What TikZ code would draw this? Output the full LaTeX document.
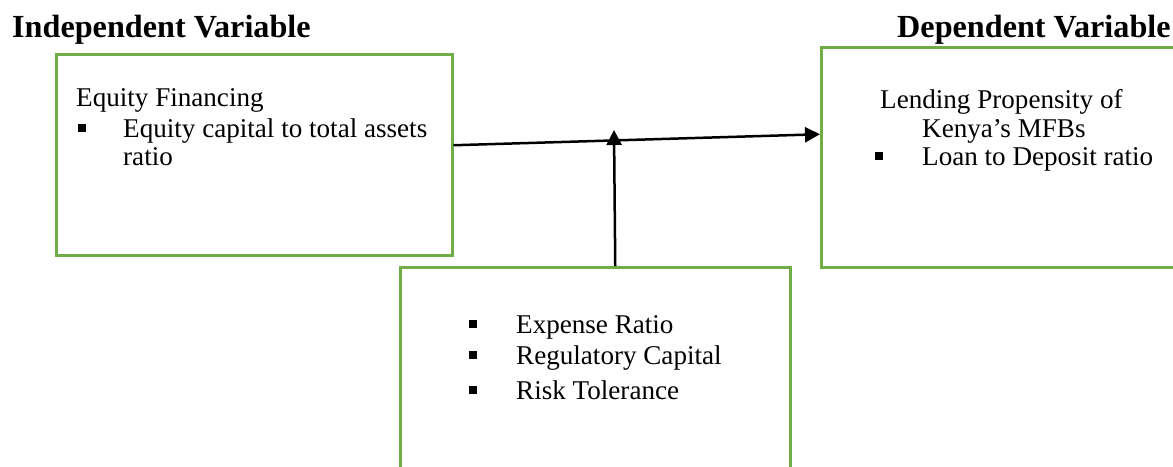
\documentclass[tikz,border=0pt]{standalone}
\usepackage{fontspec}
\setmainfont{Liberation Serif}
\usetikzlibrary{arrows.meta}
\definecolor{boxgreen}{HTML}{70AD47}
\newcommand{\bul}{\rule[5.5pt]{8pt}{8pt}}
\begin{document}
\begin{tikzpicture}[x=1pt,y=-1pt,
  gbox/.style={draw=boxgreen, line width=2.5pt, inner sep=0pt, anchor=north west},
  txt/.style={inner sep=0pt, anchor=base west, font=\fontsize{27.1}{30}\selectfont},
  ttl/.style={inner sep=0pt, anchor=base west, font=\fontsize{32.2}{36}\selectfont\bfseries},
  conn/.style={line width=2.5pt, -{Triangle[length=15pt,width=15pt]}}]
\useasboundingbox (0,0) rectangle (1173,466);
\clip (0,0) rectangle (1173,466);
% titles
\node[ttl] (tind) at (12,37) {Independent Variable};
\node[ttl] (tdep) at (897,37) {Dependent Variable};
% boxes
\node[gbox, minimum width=396pt, minimum height=201pt] (ind) at (55,53) {};
\node[gbox, minimum width=370pt, minimum height=220pt] (dep) at (820,46) {};
\node[gbox, minimum width=390pt, minimum height=214pt] (mod) at (399,266) {};
% left box text
\node[txt] (l1) at (76,106) {Equity Financing};
\node[txt] (lb1) at (78,137) {\bul};
\node[txt] (l2) at (123,137) {Equity capital to total assets};
\node[txt] (l3) at (123,165) {ratio};
% right box text
\node[txt] (r1) at (880,108) {Lending Propensity of};
\node[txt] (r2) at (922,137) {Kenya’s MFBs};
\node[txt] (rb1) at (875,165) {\bul};
\node[txt] (r3) at (922,165) {Loan to Deposit ratio};
% bottom box text
\node[txt] (mb1) at (469,333) {\bul};
\node[txt] (m1) at (516,333) {Expense Ratio};
\node[txt] (mb2) at (469,364) {\bul};
\node[txt] (m2) at (516,364) {Regulatory Capital};
\node[txt] (mb3) at (469,399) {\bul};
\node[txt] (m3) at (516,399) {Risk Tolerance};
% connectors
\coordinate (mid) at (614,130);
\draw[conn] ([yshift=9.5pt]ind.east) -- ([yshift=23pt]dep.west);
\draw[conn] ([xshift=20pt]mod.north) -- (mid);
\end{tikzpicture}
\end{document}
